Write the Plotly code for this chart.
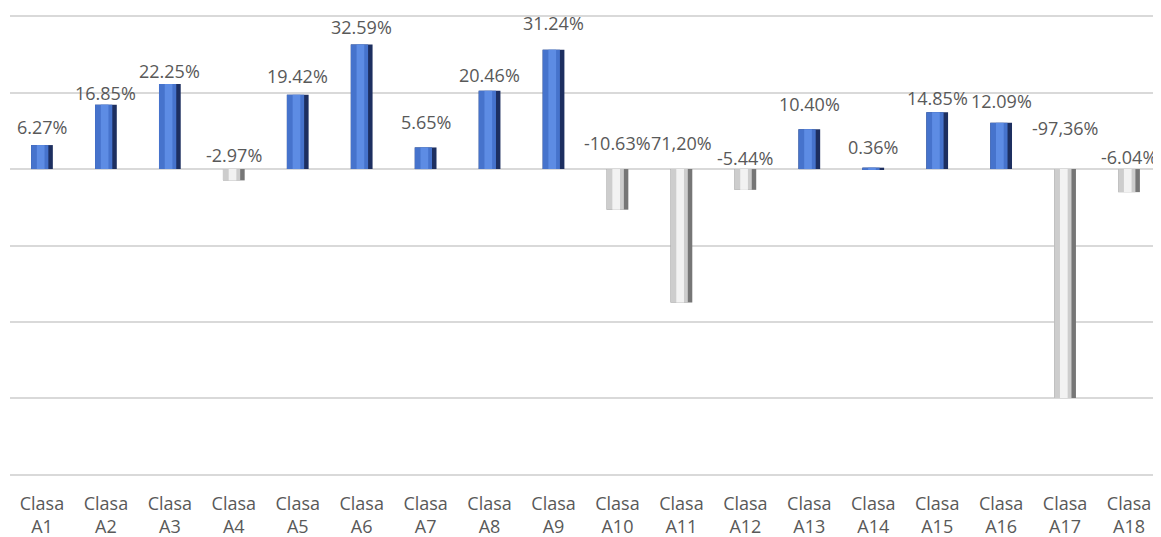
import plotly.graph_objects as go

categories = [f"Clasa<br>A{i}" for i in range(1, 19)]
bar_values = [6.27, 16.85, 22.25, -2.97, 19.42, 32.59, 5.65, 20.46, 31.24,
              -10.63, -34.9, -5.44, 10.40, 0.36, 14.85, 12.09, -59.9, -6.04]
label_texts = ["6.27%", "16.85%", "22.25%", "-2.97%", "19.42%", "32.59%", "5.65%",
               "20.46%", "31.24%", "-10.63%", "71,20%", "-5.44%", "10.40%", "0.36%",
               "14.85%", "12.09%", "-97,36%", "-6.04%"]
# pixel offsets of labels above their anchor (layout detail)
label_shift = [18, 12, 13, 14, 19, 17, 25, 16, 27, 26, 26, 11, 25, 21, 14, 22, 41, 12]

dark = ["#1d2f60" if v >= 0 else "#767676" for v in bar_values]
mid = ["#4673cc" if v >= 0 else "#cdcdcd" for v in bar_values]
light = ["#5d8ce4" if v >= 0 else "#f2f2f2" for v in bar_values]

fig = go.Figure()
fig.add_trace(go.Bar(x=categories, y=bar_values, width=0.34, offset=-0.17,
                     marker=dict(color=dark, line=dict(width=0)), hoverinfo="skip"))
fig.add_trace(go.Bar(x=categories, y=bar_values, width=0.27, offset=-0.17,
                     marker=dict(color=mid, line=dict(width=0)), hoverinfo="skip"))
fig.add_trace(go.Bar(x=categories, y=bar_values, width=0.12, offset=-0.08,
                     marker=dict(color=light, line=dict(width=0)), hoverinfo="skip"))

for c, v, t, s in zip(categories, bar_values, label_texts, label_shift):
    fig.add_annotation(x=c, y=max(v, 0), text=t, showarrow=False,
                       yanchor="middle", yshift=s,
                       font=dict(family="Open Sans", size=18, color="#595959"))

fig.update_layout(
    width=1153, height=529,
    margin=dict(l=2, r=0, t=7, b=61),
    paper_bgcolor="white", plot_bgcolor="white",
    showlegend=False, barmode="overlay",
    xaxis=dict(showgrid=False, showline=False, ticks="", automargin=False,
               ticklabelstandoff=15,
               tickfont=dict(family="Open Sans", size=18, color="#595959")),
    yaxis=dict(range=[-80.3, 40.3], tick0=0, dtick=20, showticklabels=False,
               automargin=False,
               showgrid=True, gridcolor="#d9d9d9", gridwidth=1.5,
               zeroline=True, zerolinecolor="#d9d9d9", zerolinewidth=1.5),
)

fig.write_html("out.html")
